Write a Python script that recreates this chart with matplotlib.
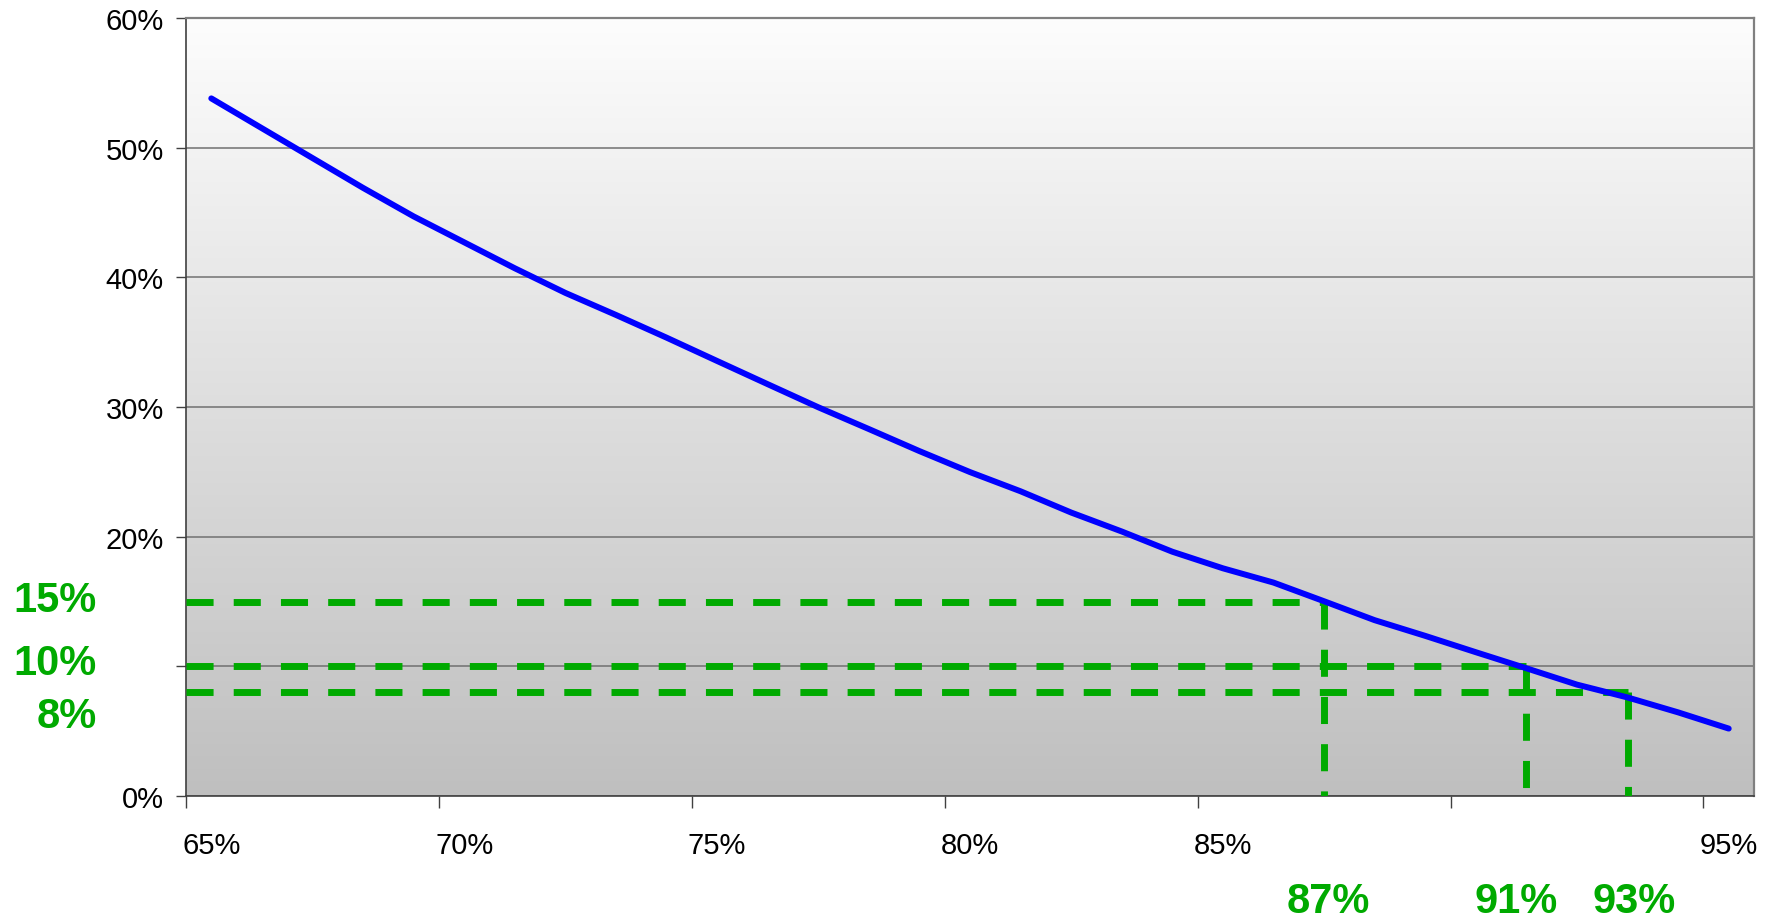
import numpy as np
import matplotlib
matplotlib.use("Agg")
import matplotlib.pyplot as plt
from matplotlib.colors import LinearSegmentedColormap

plt.rcParams['font.family'] = ['Liberation Sans', 'DejaVu Sans']

# One category per percentage point on the x-axis
x_pct = list(range(65, 96))
# Curve values (%) for each category
y_pct = [53.8, 51.5, 49.2, 46.9, 44.7, 42.7, 40.7, 38.8, 37.1, 35.35,
         33.55, 31.76, 29.98, 28.3, 26.6, 24.98, 23.5, 21.86, 20.4, 18.84,
         17.56, 16.46, 15.02, 13.56, 12.35, 11.09, 9.85, 8.59, 7.6, 6.45, 5.2]

x_label_vals = [65, 70, 75, 80, 85, 95]
x_tick_labels = ['65%', '70%', '75%', '80%', '85%', '95%']
y_ticks = [0, 10, 20, 30, 40, 50, 60]
y_tick_labels = ['0%', '', '20%', '30%', '40%', '50%', '60%']

# Reference levels: y level and the x where the curve reaches it
ref_y = [15, 10, 8]
ref_x = [87, 91, 93]
ref_y_labels = ['15%', '10%', '8%']
ref_x_labels = ['87%', '91%', '93%']

W, H = 1769, 920
fig = plt.figure(figsize=(W / 100, H / 100), dpi=100)
ax = fig.add_axes([186 / W, 123 / H, 1568 / W, 778 / H])

# Vertical grey gradient behind the plot
grad = np.linspace(0, 1, 256).reshape(-1, 1)
cmap = LinearSegmentedColormap.from_list('bg', ['#fdfdfd', '#bfbfbf'])
ax.imshow(grad, cmap=cmap, extent=(0, 1, 0, 1), origin='upper',
          transform=ax.transAxes, aspect='auto', zorder=-1)

green = '#00aa00'
x_lo = x_pct[0] - 0.5
x_hi = x_pct[-1] + 0.5

# Dashed guide lines
for yv, xv in zip(ref_y, ref_x):
    ax.plot([x_lo, xv], [yv, yv], color=green, lw=5, dashes=(3.9, 2.9),
            zorder=3)
    ax.plot([xv, xv], [yv, 0], color=green, lw=5, dashes=(3.9, 2.9),
            zorder=3)

# Main curve
ax.plot(x_pct, y_pct, color='#0000ff', lw=4.3, solid_capstyle='round',
        solid_joinstyle='round', zorder=4)

ax.set_xlim(x_lo, x_hi)
ax.set_ylim(0, 60)

# Tick marks sit on category boundaries, labels on category centres
ax.set_xticks(np.array(x_pct[::5]) - 0.5)
ax.set_xticklabels([])
ax.set_xticks(x_label_vals, x_tick_labels, minor=True)
ax.tick_params(axis='x', which='major', length=8.6, width=1,
               color='#404040', direction='out')
ax.tick_params(axis='x', which='minor', length=0, pad=25, labelsize=21)

ax.set_yticks(y_ticks, y_tick_labels)
ax.tick_params(axis='y', length=7.2, width=1, pad=8.8, labelsize=21,
               color='#404040')

ax.set_axisbelow(True)
ax.yaxis.grid(True, color='#707070', lw=1.1)

for side in ('top', 'right'):
    ax.spines[side].set_color('#808080')
    ax.spines[side].set_linewidth(1.6)
for side in ('left', 'bottom'):
    ax.spines[side].set_color('#404040')
    ax.spines[side].set_linewidth(1.2)

# Green level labels on the left
ylab_offsets = [0.8, 2.5, -17]
for val, lab, dy in zip(ref_y, ref_y_labels, ylab_offsets):
    ax.annotate(lab, xy=(97 / W, val), xycoords=('figure fraction', 'data'),
                xytext=(0, dy), textcoords='offset points',
                ha='right', va='center', fontsize=30, fontweight='bold',
                color=green, annotation_clip=False)

# Green level labels under the x-axis
xlab_offsets = [3.2, -7.2, 5]
for val, lab, dx in zip(ref_x, ref_x_labels, xlab_offsets):
    ax.annotate(lab, xy=(val, 18 / H), xycoords=('data', 'figure fraction'),
                xytext=(dx, 0), textcoords='offset points',
                ha='center', va='center', fontsize=30, fontweight='bold',
                color=green, annotation_clip=False)

fig.savefig('out.png', dpi=100)
